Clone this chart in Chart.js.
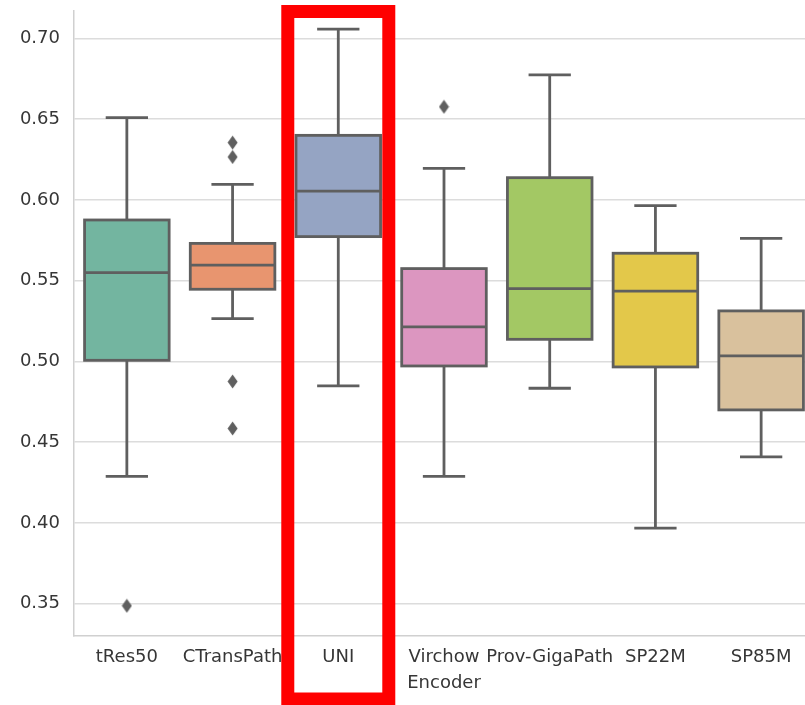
<!DOCTYPE html>
<html>
<head>
<meta charset="utf-8">
<script src="https://cdn.jsdelivr.net/npm/chart.js@4.4.0/dist/chart.umd.min.js"></script>
<style>
  html, body { margin: 0; padding: 0; background: #fff; overflow: hidden; }
  #wrap { width: 822px; height: 705px; }
</style>
</head>
<body>
<div id="wrap"><canvas id="chart" width="822" height="705"></canvas></div>
<script>
// categories (multi-line label as array)
const categories = ['tRes50', 'CTransPath', 'UNI', ['Virchow', 'Encoder'], 'Prov-GigaPath', 'SP22M', 'SP85M'];

// box statistics per category
const whiskerLow = [0.4288, 0.5265, 0.4849, 0.4288, 0.4834, 0.3968, 0.4409];
const q1Values   = [0.5007, 0.5447, 0.5773, 0.4972, 0.5137, 0.4966, 0.4700];
const medians    = [0.5550, 0.5597, 0.6055, 0.5214, 0.5451, 0.5436, 0.5034];
const q3Values   = [0.5876, 0.5731, 0.6400, 0.5575, 0.6138, 0.5670, 0.5313];
const whiskerHigh = [0.6510, 0.6097, 0.7058, 0.6196, 0.6775, 0.5965, 0.5762];

// outliers: category index + value
const outlierIdx  = [0, 1, 1, 1, 1, 3];
const outlierVals = [0.3487, 0.6355, 0.6266, 0.4876, 0.4585, 0.6577];

const yTicks = [0.35, 0.40, 0.45, 0.50, 0.55, 0.60, 0.65, 0.70];

const boxColors = ['#73b5a0', '#e8956f', '#95a4c3', '#dc96c0', '#a3c864', '#e3c84a', '#d9c19d'];
const lineColor = '#5f5f5f';

Chart.defaults.font.family = "'DejaVu Sans', sans-serif";
Chart.defaults.color = '#363636';

// thin diamond marker like matplotlib 'd'
const diamond = document.createElement('canvas');
diamond.width = 11; diamond.height = 15;
(function () {
  const c = diamond.getContext('2d');
  c.fillStyle = lineColor;
  c.beginPath();
  c.moveTo(5.5, 0.5); c.lineTo(10.5, 7.5); c.lineTo(5.5, 14.5); c.lineTo(0.5, 7.5);
  c.closePath(); c.fill();
})();

const boxLines = {
  id: 'boxLines',
  afterDatasetsDraw(chart) {
    const { ctx, scales: { x, y } } = chart;
    const meta = chart.getDatasetMeta(0);
    ctx.save();
    ctx.strokeStyle = lineColor;
    ctx.lineWidth = 2.8;
    ctx.lineCap = 'butt';
    categories.forEach((c, i) => {
      const bar = meta.data[i];
      const xc = x.getPixelForValue(i);
      const half = bar.width / 2;
      const yq1 = y.getPixelForValue(q1Values[i]);
      const yq3 = y.getPixelForValue(q3Values[i]);
      const ym = y.getPixelForValue(medians[i]);
      const ylo = y.getPixelForValue(whiskerLow[i]);
      const yhi = y.getPixelForValue(whiskerHigh[i]);
      ctx.beginPath();
      // whiskers
      ctx.moveTo(xc, yq3); ctx.lineTo(xc, yhi);
      ctx.moveTo(xc, yq1); ctx.lineTo(xc, ylo);
      // caps
      ctx.moveTo(xc - half / 2, yhi); ctx.lineTo(xc + half / 2, yhi);
      ctx.moveTo(xc - half / 2, ylo); ctx.lineTo(xc + half / 2, ylo);
      // median
      ctx.moveTo(xc - half, ym); ctx.lineTo(xc + half, ym);
      ctx.stroke();
      ctx.strokeRect(xc - half, yq3, half * 2, yq1 - yq3);
    });
    ctx.restore();
  },
  afterDraw(chart) {
    // red highlight frame around UNI
    const { ctx, scales: { x } } = chart;
    const xc = x.getPixelForValue(2);
    ctx.save();
    ctx.strokeStyle = '#ff0000';
    ctx.lineWidth = 13;
    ctx.strokeRect(xc - 50.5, 11.5, 101, 687.5);
    ctx.restore();
  }
};

new Chart(document.getElementById('chart'), {
  data: {
    labels: categories,
    datasets: [
      {
        type: 'bar',
        data: q1Values.map((v, i) => [v, q3Values[i]]),
        backgroundColor: boxColors,
        borderWidth: 0,
        barPercentage: 0.8,
        categoryPercentage: 1.0
      },
      {
        type: 'scatter',
        // use the label itself so the category scale finds the right slot
        data: outlierIdx.map((c, i) => ({ x: categories[c], y: outlierVals[i] })),
        pointStyle: diamond,
        pointRadius: 7
      }
    ]
  },
  options: {
    responsive: false,
    animation: false,
    layout: { padding: { top: 11, left: 0, right: 0, bottom: 0 } },
    plugins: { legend: { display: false }, tooltip: { enabled: false } },
    scales: {
      x: {
        type: 'category',
        offset: true,
        grid: { display: false, drawTicks: false },
        border: { display: true, color: '#d0d0d0', width: 1.5 },
        ticks: { font: { size: 18, lineHeight: 1.45 }, padding: 8, maxRotation: 0, autoSkip: false },
        afterFit(s) { s.height = 69; s.paddingLeft = 0; s.paddingRight = 0; }
      },
      y: {
        type: 'linear',
        min: 0.33,
        max: 0.717,
        grid: { color: '#dcdcdc', lineWidth: 1.5, drawTicks: false },
        border: { display: true, color: '#d0d0d0', width: 1.5 },
        ticks: { font: { size: 18 }, padding: 14, callback: v => v.toFixed(2) },
        afterBuildTicks(s) { s.ticks = yTicks.map(v => ({ value: v })); },
        afterFit(s) { s.width = 74; s.paddingTop = 0; s.paddingBottom = 0; }
      }
    }
  },
  plugins: [boxLines]
});
</script>
</body>
</html>
